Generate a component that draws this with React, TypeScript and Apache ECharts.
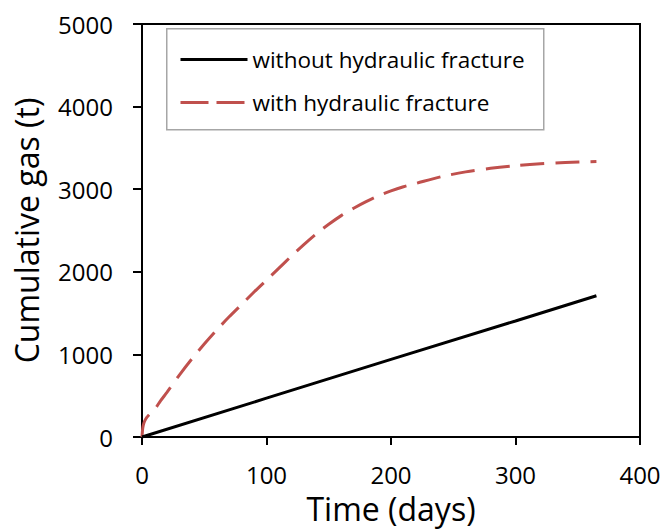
import React, { useEffect, useRef } from "react";
import * as echarts from "echarts";

const seriesNames = ["without hydraulic fracture", "with hydraulic fracture"];

const daysWithout = [0, 100, 200, 300, 365];
const gasWithout = [0, 470, 940, 1405, 1710];

const daysWith = [0, 0.5, 1, 2, 4, 7, 10, 15, 20, 30, 40, 50, 60, 70, 80, 90, 100, 110, 120, 130, 140, 150, 160, 170, 180, 190, 200, 210, 220, 240, 260, 280, 300, 320, 340, 365];
const gasWith = [0, 95, 140, 190, 240, 290, 330, 440, 540, 750, 945, 1125, 1295, 1455, 1605, 1755, 1900, 2045, 2190, 2330, 2460, 2575, 2680, 2770, 2850, 2920, 2980, 3030, 3070, 3150, 3210, 3253, 3285, 3307, 3322, 3335];

const xTicks = [0, 100, 200, 300, 400];
const yTicks = [0, 1000, 2000, 3000, 4000, 5000];

const FONT = "'Open Sans', sans-serif";

export default function App() {
  const ref = useRef<HTMLDivElement>(null);
  useEffect(() => {
    if (!ref.current) return;
    const chart = echarts.init(ref.current, null, { renderer: "svg" });
    const pairs = (xs: number[], ys: number[]) => xs.map((x, i) => [x, ys[i]]);
    chart.setOption({
      animation: false,
      backgroundColor: "#fff",
      textStyle: { fontFamily: FONT },
      grid: {
        left: 142,
        right: 25,
        top: 24,
        bottom: 93,
        show: true,
        borderColor: "#000",
        borderWidth: 2,
        backgroundColor: "transparent",
      },
      graphic: [
        {
          type: "rect",
          left: 166,
          top: 28,
          shape: { width: 377, height: 101 },
          style: { fill: "#fff", stroke: "#a6a6a6", lineWidth: 1.5 },
          z: 50,
        },
      ],
      legend: {
        z: 60,
        orient: "vertical",
        left: 179,
        top: 48,
        padding: 0,
        itemWidth: 67,
        itemHeight: 24,
        itemGap: 20,
        itemStyle: { opacity: 0 },
        textStyle: { fontSize: 22.5, color: "#000", fontFamily: FONT },
        data: [
          { name: seriesNames[0], lineStyle: { color: "#000", width: 3, type: "solid" } },
          { name: seriesNames[1], lineStyle: { color: "#C0504D", width: 3, type: [28, 8] } },
        ],
      },
      xAxis: {
        type: "value",
        min: 0,
        max: 400,
        interval: 100,
        name: "Time (days)",
        nameLocation: "middle",
        nameGap: 55,
        nameTextStyle: { fontSize: 32, color: "#000", fontFamily: FONT },
        axisLine: { show: true, lineStyle: { color: "#000", width: 2 } },
        axisTick: { show: true, inside: false, length: 8, lineStyle: { color: "#000", width: 2 } },
        axisLabel: {
          fontSize: 24,
          color: "#000",
          margin: 25,
          fontFamily: FONT,
          formatter: (v: number) => (xTicks.includes(v) ? String(v) : ""),
        },
        splitLine: { show: false },
      },
      yAxis: {
        type: "value",
        min: 0,
        max: 5000,
        interval: 1000,
        name: "Cumulative gas (t)",
        nameLocation: "middle",
        nameGap: 100,
        nameTextStyle: { fontSize: 32, color: "#000", fontFamily: FONT },
        axisLine: { show: true, lineStyle: { color: "#000", width: 2 } },
        axisTick: { show: true, inside: false, length: 9, lineStyle: { color: "#000", width: 2 } },
        axisLabel: {
          fontSize: 24,
          color: "#000",
          margin: 29,
          fontFamily: FONT,
          formatter: (v: number) => (yTicks.includes(v) ? String(v) : ""),
        },
        splitLine: { show: false },
      },
      series: [
        {
          name: seriesNames[0],
          type: "line",
          data: pairs(daysWithout, gasWithout),
          showSymbol: false,
          symbol: "none",
          lineStyle: { color: "#000", width: 3 },
          itemStyle: { color: "#000" },
          z: 3,
        },
        {
          name: seriesNames[1],
          type: "line",
          data: pairs(daysWith, gasWith),
          showSymbol: false,
          symbol: "none",
          smooth: 0.3,
          lineStyle: { color: "#C0504D", width: 3, type: [24, 11] },
          itemStyle: { color: "#C0504D" },
          z: 2,
        },
      ],
    });
    return () => chart.dispose();
  }, []);
  return <div ref={ref} style={{ width: 665, height: 530, position: "absolute", left: 0, top: 0 }} />;
}
